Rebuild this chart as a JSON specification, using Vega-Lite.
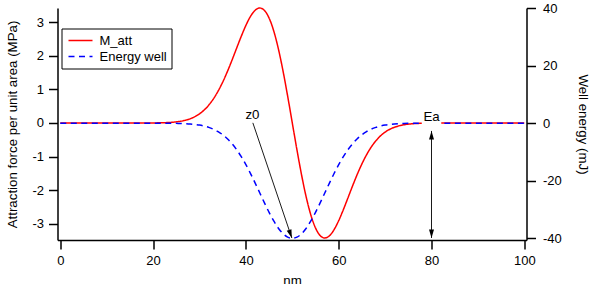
{
  "$schema": "https://vega.github.io/schema/vega-lite/v6.json",
  "width": 469,
  "height": 232,
  "autosize": {"type": "none"},
  "padding": {"left": 57.5, "top": 8, "right": 64.5, "bottom": 44},
  "background": "white",
  "config": {
    "view": {"stroke": null},
    "font": "Liberation Sans",
    "axis": {
      "grid": false,
      "domainColor": "black",
      "domainWidth": 1.5,
      "tickColor": "black",
      "tickWidth": 1.5,
      "tickSize": 9,
      "labelColor": "black",
      "labelFont": "Liberation Sans",
      "labelFontSize": 13,
      "titleColor": "black",
      "titleFont": "Liberation Sans",
      "titleFontSize": 13.3,
      "titleFontWeight": "normal",
      "labelExpr": "replace(datum.label, '\u2212', '-')"
    }
  },
  "datasets": {
    "force": [
      {"x": 0, "v": 0, "series": "M_att"},
      {"x": 15, "v": 0, "series": "M_att"},
      {"x": 20, "v": 0.0025, "series": "M_att"},
      {"x": 22, "v": 0.0076, "series": "M_att"},
      {"x": 23, "v": 0.0129, "series": "M_att"},
      {"x": 24, "v": 0.0212, "series": "M_att"},
      {"x": 25, "v": 0.0343, "series": "M_att"},
      {"x": 26, "v": 0.0543, "series": "M_att"},
      {"x": 27, "v": 0.084, "series": "M_att"},
      {"x": 28, "v": 0.1273, "series": "M_att"},
      {"x": 29, "v": 0.1885, "series": "M_att"},
      {"x": 30, "v": 0.2727, "series": "M_att"},
      {"x": 31, "v": 0.3853, "series": "M_att"},
      {"x": 32, "v": 0.5337, "series": "M_att"},
      {"x": 33, "v": 0.7197, "series": "M_att"},
      {"x": 34, "v": 0.9488, "series": "M_att"},
      {"x": 35, "v": 1.2203, "series": "M_att"},
      {"x": 36, "v": 1.5303, "series": "M_att"},
      {"x": 37, "v": 1.8726, "series": "M_att"},
      {"x": 38, "v": 2.2308, "series": "M_att"},
      {"x": 39, "v": 2.5852, "series": "M_att"},
      {"x": 40, "v": 2.9117, "series": "M_att"},
      {"x": 41, "v": 3.1818, "series": "M_att"},
      {"x": 42, "v": 3.3635, "series": "M_att"},
      {"x": 43, "v": 3.43, "series": "M_att"},
      {"x": 44, "v": 3.3573, "series": "M_att"},
      {"x": 45, "v": 3.1298, "series": "M_att"},
      {"x": 46, "v": 2.7449, "series": "M_att"},
      {"x": 47, "v": 2.2111, "series": "M_att"},
      {"x": 48, "v": 1.5512, "series": "M_att"},
      {"x": 49, "v": 0.7997, "series": "M_att"},
      {"x": 50, "v": 0, "series": "M_att"},
      {"x": 51, "v": -0.7997, "series": "M_att"},
      {"x": 52, "v": -1.5512, "series": "M_att"},
      {"x": 53, "v": -2.2111, "series": "M_att"},
      {"x": 54, "v": -2.7449, "series": "M_att"},
      {"x": 55, "v": -3.1298, "series": "M_att"},
      {"x": 56, "v": -3.3573, "series": "M_att"},
      {"x": 57, "v": -3.43, "series": "M_att"},
      {"x": 58, "v": -3.3635, "series": "M_att"},
      {"x": 59, "v": -3.1818, "series": "M_att"},
      {"x": 60, "v": -2.9117, "series": "M_att"},
      {"x": 61, "v": -2.5852, "series": "M_att"},
      {"x": 62, "v": -2.2308, "series": "M_att"},
      {"x": 63, "v": -1.8726, "series": "M_att"},
      {"x": 64, "v": -1.5303, "series": "M_att"},
      {"x": 65, "v": -1.2203, "series": "M_att"},
      {"x": 66, "v": -0.9488, "series": "M_att"},
      {"x": 67, "v": -0.7197, "series": "M_att"},
      {"x": 68, "v": -0.5337, "series": "M_att"},
      {"x": 69, "v": -0.3853, "series": "M_att"},
      {"x": 70, "v": -0.2727, "series": "M_att"},
      {"x": 71, "v": -0.1885, "series": "M_att"},
      {"x": 72, "v": -0.1273, "series": "M_att"},
      {"x": 73, "v": -0.084, "series": "M_att"},
      {"x": 74, "v": -0.0543, "series": "M_att"},
      {"x": 75, "v": -0.0343, "series": "M_att"},
      {"x": 76, "v": -0.0212, "series": "M_att"},
      {"x": 77, "v": -0.0129, "series": "M_att"},
      {"x": 78, "v": -0.0076, "series": "M_att"},
      {"x": 80, "v": -0.0025, "series": "M_att"},
      {"x": 85, "v": 0, "series": "M_att"},
      {"x": 100, "v": 0, "series": "M_att"}
    ],
    "well": [
      {"x": 0, "e": 0, "series": "Energy well"},
      {"x": 15, "e": 0, "series": "Energy well"},
      {"x": 20, "e": -0.004, "series": "Energy well"},
      {"x": 22, "e": -0.013, "series": "Energy well"},
      {"x": 23, "e": -0.024, "series": "Energy well"},
      {"x": 24, "e": -0.04, "series": "Energy well"},
      {"x": 25, "e": -0.068, "series": "Energy well"},
      {"x": 26, "e": -0.112, "series": "Energy well"},
      {"x": 27, "e": -0.181, "series": "Energy well"},
      {"x": 28, "e": -0.286, "series": "Energy well"},
      {"x": 29, "e": -0.444, "series": "Energy well"},
      {"x": 30, "e": -0.675, "series": "Energy well"},
      {"x": 31, "e": -1.004, "series": "Energy well"},
      {"x": 32, "e": -1.466, "series": "Energy well"},
      {"x": 33, "e": -2.096, "series": "Energy well"},
      {"x": 34, "e": -2.936, "series": "Energy well"},
      {"x": 35, "e": -4.028, "series": "Energy well"},
      {"x": 36, "e": -5.412, "series": "Energy well"},
      {"x": 37, "e": -7.132, "series": "Energy well"},
      {"x": 38, "e": -9.204, "series": "Energy well"},
      {"x": 39, "e": -11.636, "series": "Energy well"},
      {"x": 40, "e": -14.416, "series": "Energy well"},
      {"x": 41, "e": -17.504, "series": "Energy well"},
      {"x": 42, "e": -20.816, "series": "Energy well"},
      {"x": 43, "e": -24.26, "series": "Energy well"},
      {"x": 44, "e": -27.704, "series": "Energy well"},
      {"x": 45, "e": -30.992, "series": "Energy well"},
      {"x": 46, "e": -33.976, "series": "Energy well"},
      {"x": 47, "e": -36.492, "series": "Energy well"},
      {"x": 48, "e": -38.4, "series": "Energy well"},
      {"x": 49, "e": -39.596, "series": "Energy well"},
      {"x": 50, "e": -40, "series": "Energy well"},
      {"x": 51, "e": -39.596, "series": "Energy well"},
      {"x": 52, "e": -38.4, "series": "Energy well"},
      {"x": 53, "e": -36.492, "series": "Energy well"},
      {"x": 54, "e": -33.976, "series": "Energy well"},
      {"x": 55, "e": -30.992, "series": "Energy well"},
      {"x": 56, "e": -27.704, "series": "Energy well"},
      {"x": 57, "e": -24.26, "series": "Energy well"},
      {"x": 58, "e": -20.816, "series": "Energy well"},
      {"x": 59, "e": -17.504, "series": "Energy well"},
      {"x": 60, "e": -14.416, "series": "Energy well"},
      {"x": 61, "e": -11.636, "series": "Energy well"},
      {"x": 62, "e": -9.204, "series": "Energy well"},
      {"x": 63, "e": -7.132, "series": "Energy well"},
      {"x": 64, "e": -5.412, "series": "Energy well"},
      {"x": 65, "e": -4.028, "series": "Energy well"},
      {"x": 66, "e": -2.936, "series": "Energy well"},
      {"x": 67, "e": -2.096, "series": "Energy well"},
      {"x": 68, "e": -1.466, "series": "Energy well"},
      {"x": 69, "e": -1.004, "series": "Energy well"},
      {"x": 70, "e": -0.675, "series": "Energy well"},
      {"x": 71, "e": -0.444, "series": "Energy well"},
      {"x": 72, "e": -0.286, "series": "Energy well"},
      {"x": 73, "e": -0.181, "series": "Energy well"},
      {"x": 74, "e": -0.112, "series": "Energy well"},
      {"x": 75, "e": -0.068, "series": "Energy well"},
      {"x": 76, "e": -0.04, "series": "Energy well"},
      {"x": 77, "e": -0.024, "series": "Energy well"},
      {"x": 78, "e": -0.013, "series": "Energy well"},
      {"x": 80, "e": -0.004, "series": "Energy well"},
      {"x": 85, "e": 0, "series": "Energy well"},
      {"x": 100, "e": 0, "series": "Energy well"}
    ],
    "labels": [
      {"label": "z0", "x": 41.4, "e": 1.3},
      {"label": "Ea", "x": 80, "e": 0.8}
    ],
    "pointers": [
      {"x": 41.5, "e": 0.1, "x2": 49.9, "e2": -39.9},
      {"x": 80, "e": -2.7, "x2": 80, "e2": -39.9}
    ],
    "heads": [
      {"x": 49.55, "e": -38.25, "angle": 341.3},
      {"x": 80, "e": -4.45, "angle": 180},
      {"x": 80, "e": -38.2, "angle": 0}
    ],
    "mask": [
      {"x": 77.9, "x2": 82.1, "e": -0.7, "e2": 6}
    ]
  },
  "resolve": {"scale": {"y": "independent"}},
  "layer": [
    {
      "layer": [
        {
          "data": {"name": "force"},
          "mark": {"type": "line", "interpolate": "monotone", "strokeWidth": 1.5},
          "encoding": {
            "x": {
              "field": "x", "type": "quantitative",
              "scale": {"domain": [-0.6, 100.47], "nice": false, "zero": false},
              "axis": {"values": [0, 20, 40, 60, 80, 100], "title": "nm", "labelPadding": 5, "titlePadding": 6}
            },
            "y": {
              "field": "v", "type": "quantitative",
              "scale": {"domain": [-3.49, 3.43], "nice": false, "zero": false},
              "axis": {"orient": "left", "values": [-3, -2, -1, 0, 1, 2, 3], "title": "Attraction force per unit area (MPa)", "labelPadding": 5, "titlePadding": 12}
            },
            "color": {
              "field": "series", "type": "nominal",
              "scale": {"domain": ["M_att", "Energy well"], "range": ["#ff0000", "#0000ff"]},
              "legend": {
                "title": null, "orient": "none", "legendX": 4, "legendY": 20.5,
                "padding": 4, "strokeColor": "black", "fillColor": "white",
                "symbolType": "stroke", "symbolSize": 576, "symbolStrokeWidth": 1.5,
                "symbolOffset": 2, "clipHeight": 16,
                "labelFont": "Liberation Sans", "labelFontSize": 13, "labelColor": "black",
                "labelOffset": 6, "rowPadding": 0
              }
            },
            "strokeDash": {
              "field": "series", "type": "nominal",
              "scale": {"domain": ["M_att", "Energy well"], "range": [[1, 0], [6, 4.5]]},
              "legend": {
                "title": null, "orient": "none", "legendX": 4, "legendY": 20.5,
                "padding": 4, "strokeColor": "black", "fillColor": "white",
                "symbolType": "stroke", "symbolSize": 576, "symbolStrokeWidth": 1.5,
                "symbolOffset": 2, "clipHeight": 16,
                "labelFont": "Liberation Sans", "labelFontSize": 13, "labelColor": "black",
                "labelOffset": 6, "rowPadding": 0
              }
            }
          }
        }
      ]
    },
    {
      "layer": [
        {
          "data": {"name": "well"},
          "mark": {"type": "line", "interpolate": "monotone", "strokeWidth": 1.5},
          "encoding": {
            "x": {"field": "x", "type": "quantitative", "scale": {"domain": [-0.6, 100.47], "nice": false, "zero": false}},
            "y": {
              "field": "e", "type": "quantitative",
              "scale": {"domain": [-40.59, 40], "nice": false, "zero": false},
              "axis": {"orient": "right", "values": [-40, -20, 0, 20, 40], "title": "Well energy (mJ)", "titleAngle": 90, "labelPadding": 7, "titlePadding": 14}
            },
            "color": {"field": "series", "type": "nominal"},
            "strokeDash": {"field": "series", "type": "nominal"}
          }
        },
        {
          "data": {"name": "mask"},
          "mark": {"type": "rect", "color": "white"},
          "encoding": {
            "x": {"field": "x", "type": "quantitative", "scale": {"domain": [-0.6, 100.47], "nice": false, "zero": false}},
            "x2": {"field": "x2"},
            "y": {"field": "e", "type": "quantitative", "scale": {"domain": [-40.59, 40], "nice": false, "zero": false}},
            "y2": {"field": "e2"}
          }
        },
        {
          "data": {"name": "pointers"},
          "mark": {"type": "rule", "color": "black", "strokeWidth": 0.9},
          "encoding": {
            "x": {"field": "x", "type": "quantitative", "scale": {"domain": [-0.6, 100.47], "nice": false, "zero": false}},
            "x2": {"field": "x2"},
            "y": {"field": "e", "type": "quantitative", "scale": {"domain": [-40.59, 40], "nice": false, "zero": false}},
            "y2": {"field": "e2"}
          }
        },
        {
          "data": {"name": "heads"},
          "mark": {"type": "point", "shape": "M0,1L-0.5,-0.7L0.5,-0.7Z", "filled": true, "color": "black", "size": 100, "opacity": 1},
          "encoding": {
            "x": {"field": "x", "type": "quantitative", "scale": {"domain": [-0.6, 100.47], "nice": false, "zero": false}},
            "y": {"field": "e", "type": "quantitative", "scale": {"domain": [-40.59, 40], "nice": false, "zero": false}},
            "angle": {"field": "angle", "type": "quantitative", "scale": null}
          }
        },
        {
          "data": {"name": "labels"},
          "mark": {"type": "text", "font": "Liberation Sans", "fontSize": 13.3, "color": "black", "align": "center", "baseline": "alphabetic"},
          "encoding": {
            "x": {"field": "x", "type": "quantitative", "scale": {"domain": [-0.6, 100.47], "nice": false, "zero": false}},
            "y": {"field": "e", "type": "quantitative", "scale": {"domain": [-40.59, 40], "nice": false, "zero": false}},
            "text": {"field": "label"}
          }
        }
      ]
    }
  ]
}
